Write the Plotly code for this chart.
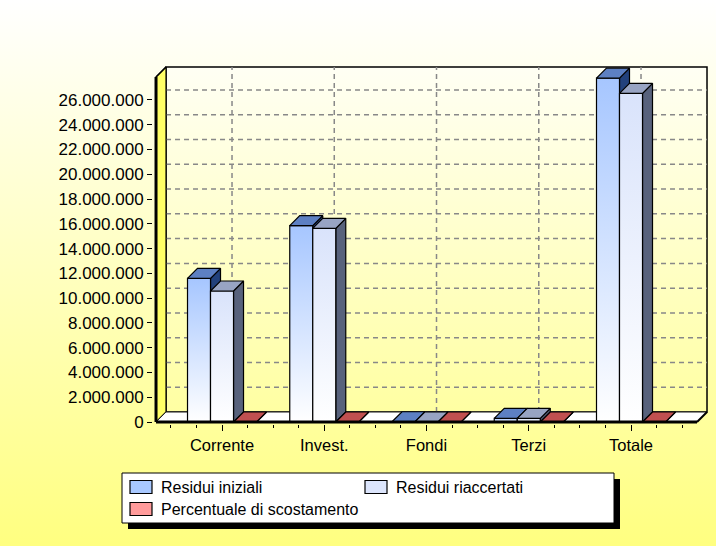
import base64
import plotly.graph_objects as go

# ---------------- data ----------------
CATEGORIES = ["Corrente", "Invest.", "Fondi", "Terzi", "Totale"]
RESIDUI_INIZIALI = [11_600_000, 15_850_000, 20_000, 290_000, 27_760_000]
RESIDUI_RIACCERTATI = [10_580_000, 15_640_000, 15_000, 300_000, 26_535_000]
PERCENTUALE_SCOSTAMENTO = [-8.8, -1.3, -25.0, 3.4, -4.4]
SERIES_NAMES = ["Residui iniziali", "Residui riaccertati", "Percentuale di scostamento"]
Y_TICKS = list(range(0, 26_000_001, 2_000_000))

# ---------------- layout constants ----------------
W, H = 716, 546
M_L, M_R, M_T, M_B = 153, 8, 66, 122
X_RANGE = [-0.675, 4.753]
Y_RANGE = [-0.16e6, 28.744e6]
PW, PH = W - M_L - M_R, H - M_T - M_B
DEPTH_PX = 10
DX = DEPTH_PX * (X_RANGE[1] - X_RANGE[0]) / PW
DY = DEPTH_PX * (Y_RANGE[1] - Y_RANGE[0]) / PH
XL, XR = -0.6455, 4.6455
YTOP = 27.86e6
BAR_W = 0.225
OFFSETS = [-1.5 * BAR_W, -0.5 * BAR_W, 0.5 * BAR_W]

FONT = "Liberation Sans, Arial, sans-serif"

STYLES = [
    dict(front=("#ffffff", "#a6c6ff"), top="#5d80c3", side="#22417c", legend="#a8c8ff"),
    dict(front=("#ffffff", "#d9e3fb"), top="#98a4c3", side="#58627c", legend="#dce5fc"),
    dict(front=("#ffffff", "#ff9a9a"), top="#c05050", side="#7a2a2a", legend="#ff9b9b"),
]

# legend box layout (pixels from top-left of the figure)
LEG_BOX = (122, 473, 614, 523)
LEG_SHADOW = 6
LEG_ITEMS = [(130, 487), (365, 487), (130, 509)]   # swatch left, row centre
SW_W, SW_H, TXT_GAP = 22, 13, 7


def px_x(px):
    return (px - M_L) / PW


def px_y(py):
    return (M_T + PH - py) / PH


def poly(xs, ys, color=None, line="black", lw=1.0, grad=None):
    kw = dict(
        x=list(xs) + [xs[0]], y=list(ys) + [ys[0]], mode="lines", fill="toself",
        line=dict(color=line, width=lw), hoverinfo="skip", showlegend=False,
    )
    if grad is not None:
        kw["fillgradient"] = dict(type="vertical", colorscale=[[0, grad[0]], [1, grad[1]]])
    else:
        kw["fillcolor"] = color
    return go.Scatter(**kw)


def seg(xs, ys, color="black", lw=1.0, dash=None):
    return go.Scatter(x=xs, y=ys, mode="lines", line=dict(color=color, width=lw, dash=dash),
                      hoverinfo="skip", showlegend=False)


fig = go.Figure()

# back wall
fig.add_trace(poly([XL + DX, XR + DX, XR + DX, XL + DX], [DY, DY, YTOP + DY, YTOP + DY],
                   grad=("#ffffa2", "#fffff4"), lw=1.5))
# gridlines on back wall
for v in Y_TICKS[1:]:
    fig.add_trace(seg([XL + DX, XR + DX], [v + DY, v + DY], color="#888888", lw=1.5, dash="5px,4px"))
for k in range(len(CATEGORIES)):
    fig.add_trace(seg([k + DX, k + DX], [DY, YTOP + DY], color="#888888", lw=1.5, dash="5px,4px"))
# left wall
fig.add_trace(poly([XL, XL + DX, XL + DX, XL], [0, DY, YTOP + DY, YTOP], color="#ffff66", lw=1.2))
# floor
fig.add_trace(poly([XL, XR, XR + DX, XL + DX], [0, 0, DY, DY], color="#ffffff", line="#222222", lw=1.0))

# bars
series_values = [RESIDUI_INIZIALI, RESIDUI_RIACCERTATI, PERCENTUALE_SCOSTAMENTO]
for k in range(len(CATEGORIES)):
    for s, vals in enumerate(series_values):
        v = vals[k]
        st = STYLES[s]
        x0 = k + OFFSETS[s]
        x1 = x0 + BAR_W
        fig.add_trace(poly([x1, x1 + DX, x1 + DX, x1], [0, DY, v + DY, v], color=st["side"], lw=1.2))
        fig.add_trace(poly([x0, x1, x1, x0], [0, 0, v, v], grad=st["front"], lw=1.2))
        fig.add_trace(poly([x0, x1, x1 + DX, x0 + DX], [v, v, v + DY, v + DY], color=st["top"], lw=1.2))

# heavy front edges
fig.add_trace(seg([XL, XR], [0, 0], lw=3))
fig.add_trace(seg([XR, XR + DX], [0, DY], lw=2))
fig.add_trace(seg([XL, XL], [0, YTOP], lw=3))
fig.add_trace(seg([XL, XL + DX], [YTOP, YTOP + DY], lw=1.5))

# paper background gradient (SVG)
svg = (
    f'<svg xmlns="http://www.w3.org/2000/svg" width="{W}" height="{H}" viewBox="0 0 {W} {H}" '
    'preserveAspectRatio="none"><defs><linearGradient id="g" x1="0" y1="0" x2="0" y2="1">'
    '<stop offset="0" stop-color="#ffffff"/><stop offset="1" stop-color="#ffff80"/>'
    f'</linearGradient></defs><rect width="{W}" height="{H}" fill="url(#g)"/></svg>'
)
bg_src = "data:image/svg+xml;base64," + base64.b64encode(svg.encode()).decode()

# legend (box, shadow, swatches, labels)
bx0, by0, bx1, by1 = LEG_BOX
shapes = [
    dict(type="rect", xref="paper", yref="paper",
         x0=px_x(bx0 + LEG_SHADOW), x1=px_x(bx1 + LEG_SHADOW),
         y0=px_y(by1 + LEG_SHADOW), y1=px_y(by0 + LEG_SHADOW),
         fillcolor="black", line=dict(width=0), layer="above"),
    dict(type="rect", xref="paper", yref="paper",
         x0=px_x(bx0), x1=px_x(bx1), y0=px_y(by1), y1=px_y(by0),
         fillcolor="white", line=dict(color="black", width=1), layer="above"),
]
annotations = []
for name, st, (sx, cy) in zip(SERIES_NAMES, STYLES, LEG_ITEMS):
    shapes.append(dict(type="rect", xref="paper", yref="paper",
                       x0=px_x(sx), x1=px_x(sx + SW_W),
                       y0=px_y(cy + SW_H / 2), y1=px_y(cy - SW_H / 2),
                       fillcolor=st["legend"], line=dict(color="black", width=1.2), layer="above"))
    annotations.append(dict(text=name, xref="paper", yref="paper",
                            x=px_x(sx + SW_W + TXT_GAP), y=px_y(cy + 0.5),
                            xanchor="left", yanchor="middle", showarrow=False,
                            font=dict(size=16, color="black", family=FONT)))

minor_ticks = [-0.5 + 0.25 * i for i in range(21)]

fig.update_layout(
    width=W, height=H,
    margin=dict(l=M_L, r=M_R, t=M_T, b=M_B, autoexpand=False),
    paper_bgcolor="#ffffc8", plot_bgcolor="rgba(0,0,0,0)",
    separators=",.",
    font=dict(family=FONT, size=16, color="black"),
    images=[dict(source=bg_src, xref="paper", yref="paper",
                 x=-M_L / PW, y=1 + M_T / PH, sizex=W / PW, sizey=H / PH,
                 xanchor="left", yanchor="top", sizing="stretch", layer="below")],
    xaxis=dict(range=X_RANGE, tickmode="array", tickvals=list(range(len(CATEGORIES))),
               ticktext=CATEGORIES, ticks="outside", ticklen=6, tickcolor="black",
               showgrid=False, zeroline=False, showline=False, fixedrange=True,
               tickfont=dict(size=16.5),
               minor=dict(tickmode="array", tickvals=minor_ticks, ticks="outside", ticklen=3,
                          tickcolor="black", showgrid=False)),
    yaxis=dict(range=Y_RANGE, tickmode="array", tickvals=Y_TICKS, tickformat=",.0f",
               ticks="outside", ticklen=5, tickcolor="black", showgrid=False, zeroline=False,
               showline=False, fixedrange=True, tickfont=dict(size=17)),
    showlegend=False,
    shapes=shapes,
    annotations=annotations,
)

fig.write_html("out.html", config={"displayModeBar": False},
               post_script="document.body.style.margin='0px';document.body.style.padding='0px';")
